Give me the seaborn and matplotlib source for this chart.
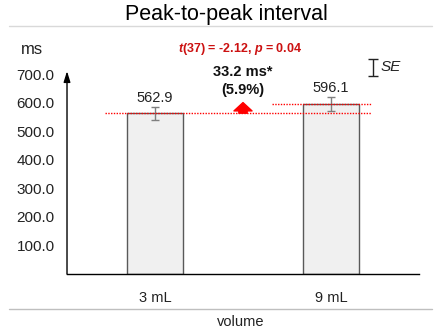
import matplotlib
matplotlib.use("Agg")
import matplotlib.pyplot as plt
import seaborn as sns
import pandas as pd
from matplotlib.lines import Line2D

# Data
volumes = ["3 mL", "9 mL"]
means = [562.9, 596.1]
se = [23.0, 24.0]
y_ticks = [100, 200, 300, 400, 500, 600, 700]
diff_label = "33.2 ms*\n(5.9%)"
stat_label = r"$\mathbfit{t}$(37) = -2.12, $\mathbfit{p}$ = 0.04"

sns.set_theme(style="white")
plt.rcParams["font.family"] = ["Liberation Sans", "DejaVu Sans"]
plt.rcParams["mathtext.fontset"] = "custom"
plt.rcParams["mathtext.bfit"] = "Liberation Sans:bold:italic"

fig = plt.figure(figsize=(4.34, 3.31), dpi=100)
ax = fig.add_axes([0.1544, 0.172, 0.811, 0.613])

df = pd.DataFrame({"volume": volumes, "ms": means})
sns.barplot(data=df, x="volume", y="ms", ax=ax, width=0.314,
            color="#f0f0f0", edgecolor="#595959", linewidth=1.0,
            saturation=1, errorbar=None)
ax.errorbar(range(len(volumes)), means, yerr=se, fmt="none",
            ecolor="#7f7f7f", elinewidth=1.0, capsize=3, capthick=1.0)

ax.set_xlim(-0.5, 1.5)
ax.set_ylim(0, 710)
ax.set_yticks(y_ticks)
ax.set_yticklabels([f"{v:.1f}" for v in y_ticks], fontsize=11, color="#222222")
ax.tick_params(axis="x", labelsize=10.5, colors="#222222", pad=12, length=0)
ax.tick_params(axis="y", length=0, pad=9)
ax.set_xlabel("")
ax.set_ylabel("")

for s in ["top", "right", "left"]:
    ax.spines[s].set_visible(False)
ax.spines["bottom"].set_color("black")
ax.spines["bottom"].set_linewidth(1.0)
ax.annotate("", xy=(0, 1.0), xytext=(0, 0), xycoords="axes fraction",
            arrowprops=dict(arrowstyle="-|>,head_width=0.25,head_length=0.8",
                            color="black", lw=1.0,
                            mutation_scale=8, shrinkA=0, shrinkB=0))

# value labels above the bars
for i, m in enumerate(means):
    ax.text(i, m + se[i] + 6, f"{m:.1f}", ha="center", va="bottom",
            fontsize=10.5, color="#222222")

# reference lines at each mean
ax.plot([-0.285, 1.23], [means[0], means[0]], color="red", lw=1.0, ls=(0, (1, 1)))
ax.plot([0.665, 1.23], [means[1], means[1]], color="red", lw=1.0, ls=(0, (1, 1)))

# difference arrow
ax.annotate("", xy=(0.5, means[1] + 4), xytext=(0.5, means[0]),
            arrowprops=dict(arrowstyle="simple,head_width=1.3,head_length=0.6,tail_width=0.6",
                            color="red", shrinkA=0, shrinkB=0, mutation_scale=10))
ax.text(0.5, 618, diff_label, ha="center", va="bottom", fontsize=10.5,
        fontweight="bold", color="#111111", linespacing=1.4)

# SE key
ax.errorbar([1.237], [724], yerr=[30], fmt="none", ecolor="#222222",
            elinewidth=1.0, capsize=3.5, capthick=1.0, clip_on=False)
ax.text(1.283, 724, "SE", ha="left", va="center", fontsize=11,
        style="italic", color="#222222")

fig.text(0.553, 0.852, stat_label, ha="center", va="center", fontsize=9,
         fontweight="bold", color="#cc1111")
fig.text(0.074, 0.849, "ms", ha="center", va="center", fontsize=12, color="#222222")
fig.text(0.521, 0.957, "Peak-to-peak interval", ha="center", va="center",
         fontsize=15.5, color="black")
fig.add_artist(Line2D([0.021, 0.996], [0.921, 0.921], color="#d9d9d9",
                      lw=1.0, transform=fig.transFigure))
fig.add_artist(Line2D([0.021, 0.996], [0.066, 0.066], color="#bfbfbf",
                      lw=1.0, transform=fig.transFigure))
fig.text(0.555, 0.027, "volume", ha="center", va="center", fontsize=10.5, color="#222222")

fig.savefig("out.png", dpi=100, facecolor="white")
